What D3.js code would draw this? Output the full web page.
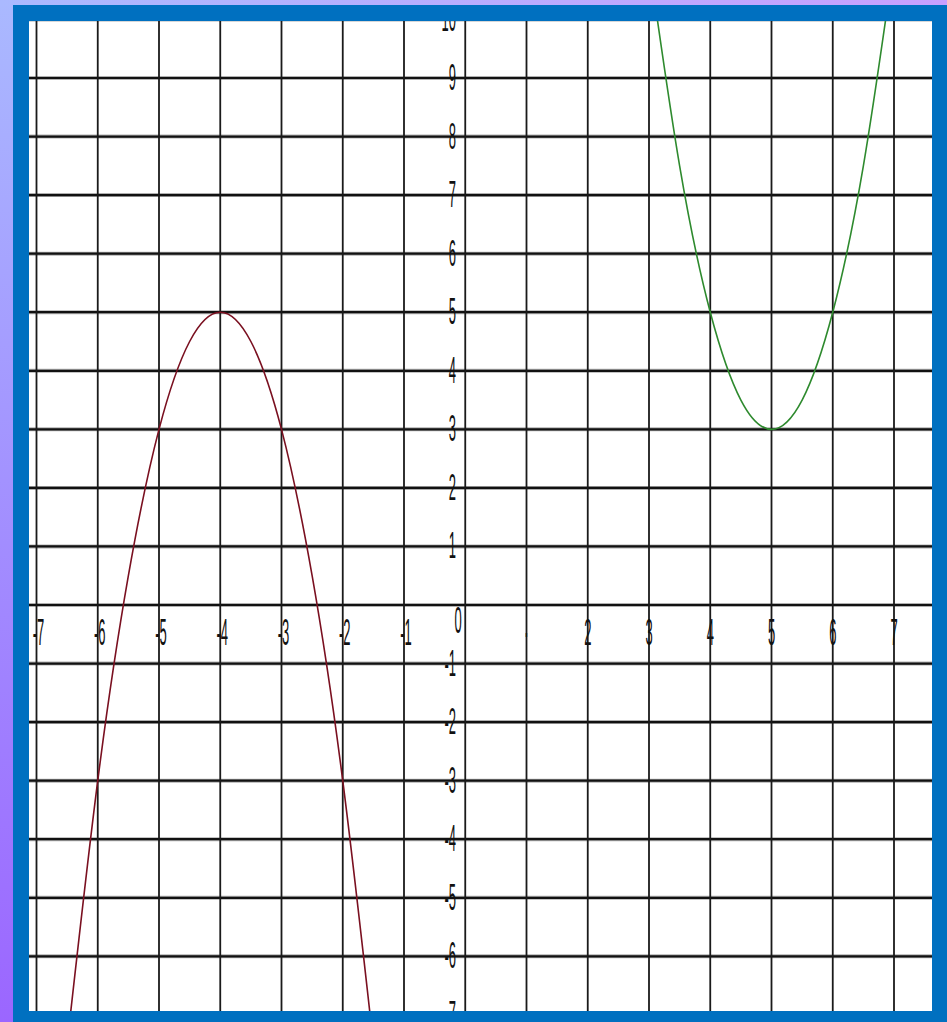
<!DOCTYPE html>
<html><head><meta charset="utf-8">
<script src="https://cdn.jsdelivr.net/npm/d3@7"></script>
<style>html,body{margin:0;padding:0;background:#fff;}svg{display:block;}</style>
</head><body>
<svg id="c" width="947" height="1022"></svg>
<script>
// ---- data ----
const xTicks = [-7,-6,-5,-4,-3,-2,-1,0,1,2,3,4,5,6,7];
const xTickLabels = ["-7","-6","-5","-4","-3","-2","-1","","·","2","3","4","5","6","7"];
const yTicks = [-7,-6,-5,-4,-3,-2,-1,0,1,2,3,4,5,6,7,8,9,10];
const yTickLabels = ["-7","-6","-5","-4","-3","-2","-1","0","1","2","3","4","5","6","7","8","9","10"];
// red parabola (opens downward, vertex at -4,5)
const redX = [-6.5,-6,-5.5,-5,-4.5,-4,-3.5,-3,-2.5,-2,-1.5];
const redY = [-7.5,-3,0.5,3,4.5,5,4.5,3,0.5,-3,-7.5];
// green parabola (opens upward, vertex at 5,3)
const greenX = [3,3.5,4,4.5,5,5.5,6,6.5,7];
const greenY = [11,7.5,5,3.5,3,3.5,5,7.5,11];

const svg = d3.select("#c");
const W = 947, H = 1022;
const plot = {x0:29, y0:21, x1:932, y1:1011};

const x = d3.scaleLinear().domain([-7,7]).range([36.5,894]);
const y = d3.scaleLinear().domain([9,0]).range([78,605]);

// background gradients
const defs = svg.append("defs");
const gl = defs.append("linearGradient").attr("id","gLeft").attr("x1",0).attr("y1",0).attr("x2",0).attr("y2",1);
gl.append("stop").attr("offset","0").attr("stop-color","#aab9ff");
gl.append("stop").attr("offset","1").attr("stop-color","#9b66ff");
const gt = defs.append("linearGradient").attr("id","gTop").attr("x1",0).attr("y1",0).attr("x2",1).attr("y2",0);
gt.append("stop").attr("offset","0").attr("stop-color","#aab9ff");
gt.append("stop").attr("offset","1").attr("stop-color","#c8a0ff");
defs.append("clipPath").attr("id","plotClip").append("rect")
  .attr("x",plot.x0).attr("y",plot.y0).attr("width",plot.x1-plot.x0).attr("height",plot.y1-plot.y0);

svg.append("rect").attr("x",0).attr("y",0).attr("width",14).attr("height",H).attr("fill","url(#gLeft)");
svg.append("rect").attr("x",0).attr("y",0).attr("width",W).attr("height",6).attr("fill","url(#gTop)");
// blue frame
svg.append("rect").attr("x",13).attr("y",5).attr("width",W-13).attr("height",H-5).attr("fill","#0070c0");
svg.append("rect").attr("x",plot.x0).attr("y",plot.y0).attr("width",plot.x1-plot.x0).attr("height",plot.y1-plot.y0).attr("fill","#ffffff");

const g = svg.append("g").attr("clip-path","url(#plotClip)");

// horizontal grid (thicker, with soft halo)
g.selectAll("line.hh").data(yTicks).join("line").attr("class","hh")
  .attr("x1",plot.x0).attr("x2",plot.x1).attr("y1",d=>y(d)).attr("y2",d=>y(d))
  .attr("stroke","#b0b0b0").attr("stroke-width",4);
g.selectAll("line.h").data(yTicks).join("line").attr("class","h")
  .attr("x1",plot.x0).attr("x2",plot.x1).attr("y1",d=>y(d)).attr("y2",d=>y(d))
  .attr("stroke","#111").attr("stroke-width",2.2);
// vertical grid
g.selectAll("line.v").data(xTicks).join("line").attr("class","v")
  .attr("y1",plot.y0).attr("y2",plot.y1).attr("x1",d=>x(d)).attr("x2",d=>x(d))
  .attr("stroke","#1a1a1a").attr("stroke-width",1.8);

// labels (tall, condensed)
const font = "'Liberation Sans', Arial, sans-serif";
function lab(px, py, txt, anchor){
  g.append("text")
    .attr("transform",`translate(${px},${py}) scale(0.72,2.0)`)
    .attr("text-anchor",anchor).attr("dominant-baseline","central")
    .attr("font-family",font).attr("font-size",18).attr("fill","#111")
    .text(txt);
}
xTicks.forEach((d,i)=>{
  const t = xTickLabels[i];
  if(!t) return;
  const off = d<0 ? 2 : 0;
  lab(x(d)+off, 633, t, "middle");
});
yTicks.forEach((d,i)=>{
  const t = yTickLabels[i];
  if(d===0){ lab(458, 621, t, "middle"); return; }
  lab(456, y(d), t, "end");
});

// curves
const line = d3.line().x(d=>x(d[0])).y(d=>y(d[1])).curve(d3.curveNatural);
g.append("path").datum(redX.map((v,i)=>[v,redY[i]]))
  .attr("d",line).attr("fill","none").attr("stroke","#7a1020").attr("stroke-width",1.6);
g.append("path").datum(greenX.map((v,i)=>[v,greenY[i]]))
  .attr("d",line).attr("fill","none").attr("stroke","#2e8a2e").attr("stroke-width",1.6);
</script>
</body></html>
